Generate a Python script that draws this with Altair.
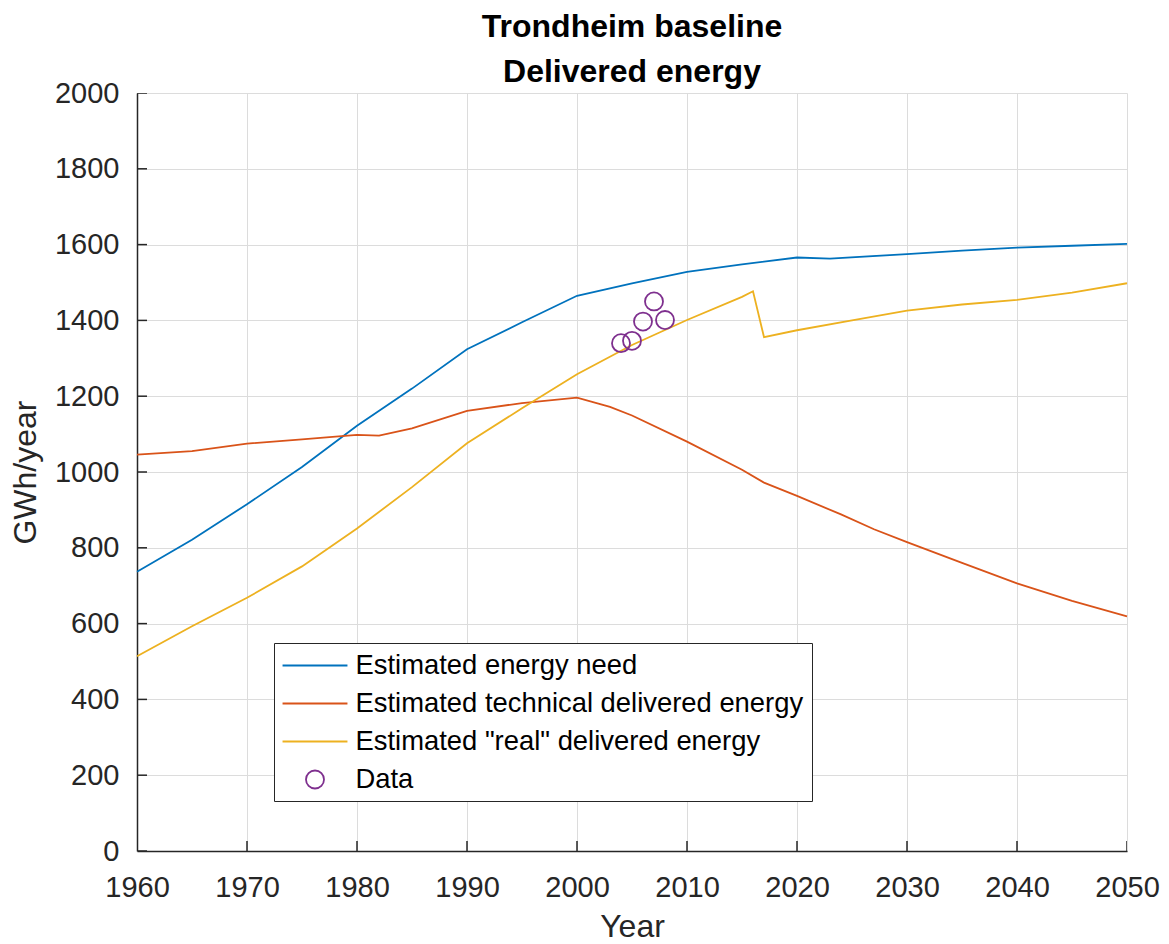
import altair as alt
import pandas as pd

# ---- data ----
need_years = [1960, 1965, 1970, 1975, 1980, 1985, 1990, 1995, 2000, 2005, 2010, 2015, 2020, 2023, 2030, 2035, 2040, 2045, 2050]
need_vals = [737, 821, 915, 1013, 1122, 1220, 1324, 1395, 1465, 1498, 1528, 1548, 1566, 1563, 1575, 1584, 1592, 1597, 1602]

tech_years = [1960, 1965, 1970, 1975, 1980, 1982, 1985, 1990, 1995, 2000, 2003, 2005, 2010, 2015, 2017, 2020, 2024, 2027, 2030, 2035, 2040, 2045, 2050]
tech_vals = [1046, 1055, 1075, 1086, 1098, 1096, 1115, 1161, 1182, 1196, 1172, 1149, 1080, 1006, 972, 937, 888, 849, 815, 760, 706, 660, 619]

real_years = [1960, 1965, 1970, 1975, 1980, 1985, 1990, 1995, 2000, 2005, 2010, 2015, 2016, 2017, 2020, 2025, 2030, 2035, 2040, 2045, 2050]
real_vals = [514, 593, 668, 751, 851, 960, 1076, 1168, 1258, 1335, 1401, 1462, 1477, 1356, 1374, 1400, 1426, 1442, 1454, 1473, 1498]

data_years = [2004, 2005, 2006, 2007, 2008]
data_vals = [1340, 1346, 1397, 1450, 1401]

series_names = ["Estimated energy need", "Estimated technical delivered energy",
                'Estimated "real" delivered energy', "Data"]
series_colors = ["#0072BD", "#D95319", "#EDB120", "#7E2F8E"]

x_ticks = list(range(1960, 2051, 10))
y_ticks = list(range(0, 2001, 200))

rows = []
for name, ys, vs in [(series_names[0], need_years, need_vals),
                     (series_names[1], tech_years, tech_vals),
                     (series_names[2], real_years, real_vals)]:
    for i, (yr, v) in enumerate(zip(ys, vs)):
        rows.append({"series": name, "year": yr, "value": v, "order": i})
lines_df = pd.DataFrame(rows)
points_df = pd.DataFrame({"series": series_names[3], "year": data_years, "value": data_vals})
xt_df = pd.DataFrame({"year": x_ticks})
yt_df = pd.DataFrame({"value": y_ticks})

FONT = "Liberation Sans"
AX = "#262626"
LINE_PATH = "M-2.45,0L2.45,0"
CIRCLE_PATH = "M-0.68,0A0.68,0.68 0 1,0 0.68,0A0.68,0.68 0 1,0 -0.68,0Z"

x_scale = alt.Scale(domain=[1960, 2050], nice=False, zero=False)
y_scale = alt.Scale(domain=[0, 2000], nice=False)

x_main = alt.X("year:Q", scale=x_scale,
               axis=alt.Axis(values=x_ticks, format="d", title="Year", labelFlush=False,
                             labelPadding=22, titlePadding=9, ticks=False))
y_main = alt.Y("value:Q", scale=y_scale,
               axis=alt.Axis(values=y_ticks, format="d", title="GWh/year", labelFlush=False,
                             labelPadding=18, titlePadding=12, ticks=False))

color_enc = alt.Color("series:N",
                      scale=alt.Scale(domain=series_names, range=series_colors),
                      legend=alt.Legend(
                          title=None, orient="none", legendX=137, legendY=550,
                          strokeColor=AX, fillColor="white", padding=8,
                          labelFont=FONT, labelFontSize=27.4, labelColor="black",
                          labelLimit=800, symbolSize=702, symbolStrokeWidth=1.8,
                          symbolFillColor="transparent",
                          symbolOffset=18.5, labelOffset=26, rowPadding=10,
                          cornerRadius=0))
shape_enc = alt.Shape("series:N",
                      scale=alt.Scale(domain=series_names,
                                      range=[LINE_PATH, LINE_PATH, LINE_PATH, CIRCLE_PATH]),
                      legend=alt.Legend(title=None, orient="none", legendX=137, legendY=550))

lines = alt.Chart(lines_df).mark_line(strokeWidth=1.8).encode(
    x=x_main, y=y_main, color=color_enc, order="order:Q"
)
points = alt.Chart(points_df).mark_point(filled=False, size=702, strokeWidth=1.8, opacity=1).encode(
    x=alt.X("year:Q", scale=x_scale), y=alt.Y("value:Q", scale=y_scale),
    color=color_enc, shape=shape_enc
)
# inward tick marks (MATLAB style), half clipped away by the plot frame
x_tick_marks = alt.Chart(xt_df).mark_tick(orient="vertical", size=20, thickness=1.5,
                                          color=AX, clip=True, opacity=1).encode(
    x=alt.X("year:Q", scale=x_scale), y=alt.datum(0)
)
y_tick_marks = alt.Chart(yt_df).mark_tick(orient="horizontal", size=20, thickness=1.5,
                                          color=AX, clip=True, opacity=1).encode(
    y=alt.Y("value:Q", scale=y_scale), x=alt.datum(1960)
)

chart = alt.layer(lines, points, x_tick_marks, y_tick_marks).properties(
    width=990, height=758,
    title=alt.Title(text=["Trondheim baseline", "Delivered energy"],
                    font=FONT, fontSize=32, fontWeight="bold", color="black",
                    lineHeight=45, anchor="middle", offset=-10),
    padding={"left": 129, "top": 85, "right": 34, "bottom": 93},
    autosize=alt.AutoSizeParams(type="none"),
).configure_view(stroke=None).configure_axis(
    labelFont=FONT, labelFontSize=29, labelColor=AX,
    titleFont=FONT, titleFontSize=32, titleFontWeight="normal", titleColor=AX,
    domainColor=AX, domainWidth=1.5,
    tickColor=AX, tickWidth=1.5,
    gridColor="#dcdcdc", gridWidth=1,
)

chart.save("out.html", embed_options={"renderer": "svg", "actions": False})
